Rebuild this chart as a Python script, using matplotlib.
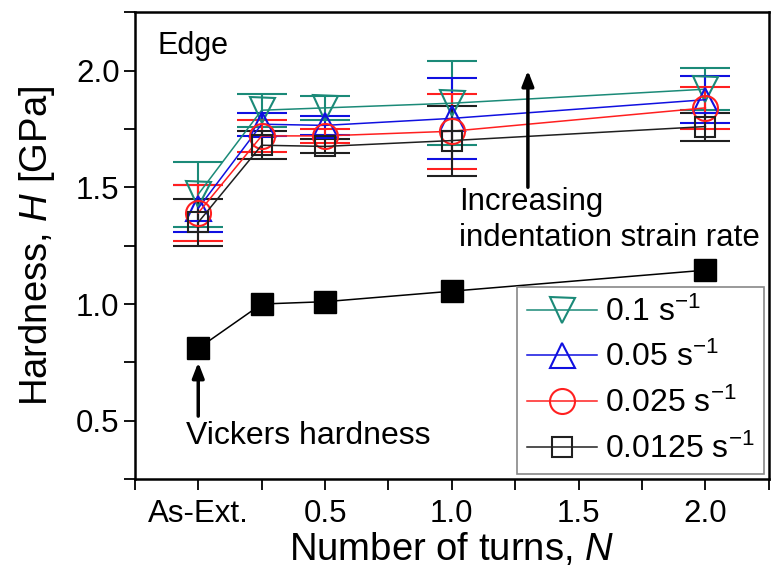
import numpy as np
import matplotlib
matplotlib.use("Agg")
import matplotlib.pyplot as plt
from matplotlib.lines import Line2D
from matplotlib.ticker import MultipleLocator, FixedLocator, FixedFormatter

plt.rcParams['font.family'] = ['Liberation Sans', 'DejaVu Sans']
plt.rcParams['mathtext.fontset'] = 'custom'
plt.rcParams['mathtext.rm'] = 'Liberation Sans'
plt.rcParams['mathtext.it'] = 'Liberation Sans:italic'

# --- data ---
turns = [0.0, 0.25, 0.5, 1.0, 2.0]

h_01 = [1.47, 1.83, 1.84, 1.86, 1.92]
e_01 = [0.14, 0.07, 0.05, 0.18, 0.09]
h_005 = [1.41, 1.77, 1.765, 1.795, 1.875]
e_005 = [0.10, 0.05, 0.04, 0.175, 0.10]
h_0025 = [1.39, 1.72, 1.72, 1.74, 1.84]
e_0025 = [0.12, 0.07, 0.03, 0.16, 0.09]
h_00125 = [1.35, 1.68, 1.675, 1.70, 1.76]
e_00125 = [0.10, 0.06, 0.03, 0.15, 0.06]

vickers = [0.81, 1.00, 1.01, 1.055, 1.145]

labels = ["0.1 s$^{-1}$", "0.05 s$^{-1}$", "0.025 s$^{-1}$", "0.0125 s$^{-1}$"]
xtick_pos = [0.0, 0.5, 1.0, 1.5, 2.0]
xtick_lab = ["As-Ext.", "0.5", "1.0", "1.5", "2.0"]

fig = plt.figure(figsize=(7.75, 5.78), dpi=100)
ax = fig.add_axes([0.174, 0.171, 0.818, 0.808])

series = [
    (h_01, e_01, 'v', '#1b8a78', 18),
    (h_005, e_005, '^', '#1010e0', 18),
    (h_0025, e_0025, 'o', '#ff2020', 18),
    (h_00125, e_00125, 's', '#202020', 14.5),
]
handles = []
for (h, e, m, c, ms), lab in zip(series, labels):
    ax.errorbar(turns, h, yerr=e, fmt='-' + m, color=c, mfc='none', mec=c,
                ms=ms, mew=1.5, lw=1.1, elinewidth=1.5, capsize=18,
                capthick=1.5)
    handles.append(Line2D([], [], color=c, marker=m, mfc='none', mec=c,
                          ms=ms, mew=1.5, lw=1.1, label=lab))

ax.plot(turns, vickers, '-s', color='black', mfc='black', ms=16, lw=1.1)

ax.set_xlim(-0.25, 2.25)
ax.set_ylim(0.25, 2.25)
ax.xaxis.set_major_locator(FixedLocator(xtick_pos))
ax.xaxis.set_major_formatter(FixedFormatter(xtick_lab))
ax.xaxis.set_minor_locator(MultipleLocator(0.25))
ax.yaxis.set_major_locator(MultipleLocator(0.5))
ax.yaxis.set_minor_locator(MultipleLocator(0.25))
ax.tick_params(which='both', direction='out', length=8, width=1.3,
               labelsize=22.5, top=False, right=False)
ax.tick_params(axis='y', pad=3)
ax.tick_params(axis='x', pad=6)
for name, s in ax.spines.items():
    s.set_visible(True)
    s.set_linewidth(1.8)
    s.set_color('black')
    s.set_zorder(5)

ax.set_xlabel("Number of turns, $\\mathit{N}$", fontsize=27.5, labelpad=2)
ax.set_ylabel("Hardness, $\\mathit{H}$ [GPa]", fontsize=27.5, labelpad=14)

ax.text(0.036, 0.927, "Edge", transform=ax.transAxes, fontsize=22,
        ha='left', va='center')

ax.annotate("", xy=(0.0, 0.75), xytext=(0.0, 0.52),
            arrowprops=dict(arrowstyle='-|>,head_length=0.9,head_width=0.35',
                            color='black', lw=2.5, shrinkA=0, shrinkB=0))
ax.text(-0.05, 0.436, "Vickers hardness", fontsize=23, ha='left', va='center')

ax.annotate("", xy=(1.30, 2.0), xytext=(1.30, 1.50),
            arrowprops=dict(arrowstyle='-|>,head_length=0.9,head_width=0.35',
                            color='black', lw=2.5, shrinkA=0, shrinkB=0))
ax.text(1.03, 1.36, "Increasing\nindentation strain rate", fontsize=22.5,
        ha='left', va='center', linespacing=1.3)

leg = ax.legend(handles=handles, loc='lower right', fontsize=23,
                frameon=True, fancybox=False, edgecolor='#888888',
                framealpha=1, handlelength=2.2, handletextpad=0.25,
                labelspacing=0.45, borderpad=0.3, borderaxespad=0.15)
leg.get_frame().set_linewidth(1.2)

fig.savefig("out.png", dpi=100)
